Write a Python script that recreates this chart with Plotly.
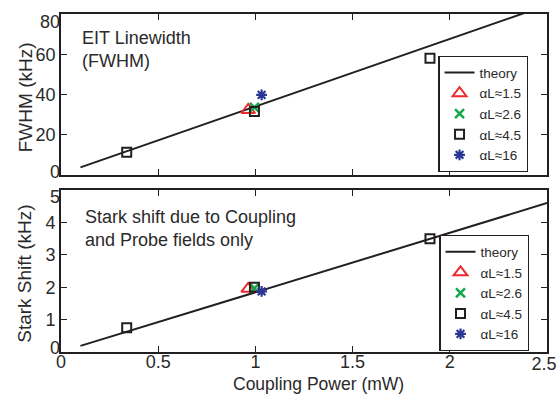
import plotly.graph_objects as go

# theory lines
theory_x = [0.1, 2.5]
fwhm_theory_y = [3.8, 84.4]
stark_theory_y = [0.19, 4.6]

# FWHM data (kHz)
fwhm_a15_x = [0.963]; fwhm_a15_y = [32.3]
fwhm_a26_x = [0.995]; fwhm_a26_y = [33.6]
fwhm_a45_x = [0.338, 0.995, 1.898]; fwhm_a45_y = [11.3, 31.5, 58.0]
fwhm_a16_x = [1.032]; fwhm_a16_y = [39.8]

# Stark shift data (kHz)
stark_a15_x = [0.963]; stark_a15_y = [1.95]
stark_a26_x = [0.995]; stark_a26_y = [1.97]
stark_a45_x = [0.338, 0.995, 1.898]; stark_a45_y = [0.75, 2.0, 3.5]
stark_a16_x = [1.032]; stark_a16_y = [1.87]

x_ticks = [0, 0.5, 1, 1.5, 2, 2.5]
x_tick_labels = ["0", "0.5", "1", "1.5", "2", "2.5"]
fwhm_ticks = [0, 20, 40, 60, 80]
fwhm_tick_labels = ["0", "20", "40", "60", "80"]
stark_ticks = [0, 1, 2, 3, 4, 5]
stark_tick_labels = ["0", "1", "2", "3", "4", "5"]

FONT = "Liberation Sans, Arial, Helvetica, sans-serif"
TXT = "#2a2a2a"
RED = "#ee2a2f"
GREEN = "#13a84a"
BLACK = "#231f20"
BLUE = "#2b3594"

fig = go.Figure()

def add_set(xa, ya, legend, tx, ty, d15, d26, d45, d16):
    fig.add_trace(go.Scatter(x=tx, y=ty, mode="lines", name="theory",
                             line=dict(color=BLACK, width=2),
                             xaxis=xa, yaxis=ya, legend=legend))
    fig.add_trace(go.Scatter(x=d15[0], y=d15[1], mode="markers", name="αL≈1.5",
                             marker=dict(symbol="triangle-up-open", size=12, color=RED,
                                         line=dict(width=2, color=RED)),
                             xaxis=xa, yaxis=ya, legend=legend))
    fig.add_trace(go.Scatter(x=d26[0], y=d26[1], mode="markers", name="αL≈2.6",
                             marker=dict(symbol="x-thin-open", size=9, color=GREEN,
                                         line=dict(width=2.5, color=GREEN)),
                             xaxis=xa, yaxis=ya, legend=legend))
    fig.add_trace(go.Scatter(x=d45[0], y=d45[1], mode="markers", name="αL≈4.5",
                             marker=dict(symbol="square-open", size=9, color=BLACK,
                                         line=dict(width=2, color=BLACK)),
                             xaxis=xa, yaxis=ya, legend=legend))
    fig.add_trace(go.Scatter(x=d16[0], y=d16[1], mode="markers", name="αL≈16",
                             marker=dict(symbol="asterisk-open", size=9, color=BLUE,
                                         line=dict(width=2.2, color=BLUE)),
                             xaxis=xa, yaxis=ya, legend=legend))

add_set("x", "y", "legend", theory_x, fwhm_theory_y,
        (fwhm_a15_x, fwhm_a15_y), (fwhm_a26_x, fwhm_a26_y),
        (fwhm_a45_x, fwhm_a45_y), (fwhm_a16_x, fwhm_a16_y))
add_set("x2", "y2", "legend2", theory_x, stark_theory_y,
        (stark_a15_x, stark_a15_y), (stark_a26_x, stark_a26_y),
        (stark_a45_x, stark_a45_y), (stark_a16_x, stark_a16_y))

# empty helper traces so that the label-only overlay axes become real subplots
for xa, ya in [("x", "y3"), ("x", "y4"), ("x3", "y2"), ("x2", "y5"), ("x2", "y6")]:
    fig.add_trace(go.Scatter(x=[None], y=[None], mode="markers", showlegend=False,
                             hoverinfo="skip", xaxis=xa, yaxis=ya))

axis_common = dict(showline=True, linecolor=BLACK, linewidth=1.6, mirror="ticks",
                   ticks="inside", ticklen=6, tickwidth=1.2, tickcolor=BLACK,
                   showgrid=False, zeroline=False, automargin=False,
                   ticklabeloverflow="allow",
                   tickfont=dict(family=FONT, size=18, color=TXT))

# overlay axes used only to place the end tick labels nudged inside the panel (as in the reference)
label_only = dict(showline=False, ticks="", showgrid=False, zeroline=False, automargin=False,
                  ticklabeloverflow="allow", tickmode="array",
                  tickfont=dict(family=FONT, size=18, color=TXT))

legend_common = dict(bgcolor="white", bordercolor=BLACK, borderwidth=1.4,
                     font=dict(family=FONT, size=13.5, color=TXT),
                     xanchor="left", yanchor="top", tracegroupgap=0,
                     itemwidth=30)

def mid_labels(labels):
    return [""] + labels[1:-1] + [""]

TOP_DOM = [0.5237, 1]
BOT_DOM = [0, 0.479]

fig.update_layout(
    width=558, height=394,
    margin=dict(l=61, r=11, t=14, b=42),
    paper_bgcolor="white", plot_bgcolor="white",
    font=dict(family=FONT, color=TXT),
    showlegend=True,
    xaxis=dict(axis_common, domain=[0, 1], range=[0, 2.5], tickvals=x_ticks,
               showticklabels=False, anchor="y"),
    yaxis=dict(axis_common, domain=TOP_DOM, range=[0, 80], tickvals=fwhm_ticks,
               ticktext=mid_labels(fwhm_tick_labels), anchor="x"),
    yaxis3=dict(label_only, overlaying="y", range=[0, 80], anchor="x", side="left",
                tickvals=fwhm_ticks[:1], ticktext=fwhm_tick_labels[:1], ticklabelshift=-3),
    yaxis4=dict(label_only, overlaying="y", range=[0, 80], anchor="x", side="left",
                tickvals=fwhm_ticks[-1:], ticktext=fwhm_tick_labels[-1:], ticklabelshift=8),
    xaxis2=dict(axis_common, domain=[0, 1], range=[0, 2.5], tickvals=x_ticks,
                ticktext=x_tick_labels[:-1] + [""], ticklabelstandoff=-7, anchor="y2"),
    xaxis3=dict(label_only, overlaying="x2", range=[0, 2.5], anchor="y2", side="bottom",
                tickvals=x_ticks[-1:], ticktext=x_tick_labels[-1:], ticklabelshift=-3,
                ticklabelstandoff=-1),
    yaxis2=dict(axis_common, domain=BOT_DOM, range=[0, 5], tickvals=stark_ticks,
                ticktext=mid_labels(stark_tick_labels), anchor="x2"),
    yaxis5=dict(label_only, overlaying="y2", range=[0, 5], anchor="x2", side="left",
                tickvals=stark_ticks[:1], ticktext=stark_tick_labels[:1], ticklabelshift=-4),
    yaxis6=dict(label_only, overlaying="y2", range=[0, 5], anchor="x2", side="left",
                tickvals=stark_ticks[-1:], ticktext=stark_tick_labels[-1:], ticklabelshift=7),
    legend=dict(legend_common, x=0.776, y=0.876),
    legend2=dict(legend_common, x=0.778, y=0.346),
    annotations=[
        dict(text="EIT Linewidth<br>(FWHM)", xref="paper", yref="paper",
             x=0.039, y=0.965, xanchor="left", yanchor="top", showarrow=False, align="left",
             font=dict(family=FONT, size=18, color=TXT)),
        dict(text="Stark shift due to Coupling<br>and Probe fields only", xref="paper", yref="paper",
             x=0.045, y=0.435, xanchor="left", yanchor="top", showarrow=False, align="left",
             font=dict(family=FONT, size=18, color=TXT)),
        dict(text="FWHM (kHz)", xref="paper", yref="paper", x=-0.074,
             y=(TOP_DOM[0] + TOP_DOM[1]) / 2 - 0.008, xanchor="center", yanchor="middle",
             textangle=-90, showarrow=False, font=dict(family=FONT, size=19, color=TXT)),
        dict(text="Stark Shift (kHz)", xref="paper", yref="paper", x=-0.074,
             y=(BOT_DOM[0] + BOT_DOM[1]) / 2 - 0.008, xanchor="center", yanchor="middle",
             textangle=-90, showarrow=False, font=dict(family=FONT, size=19, color=TXT)),
        dict(text="Coupling Power (mW)", xref="paper", yref="paper", x=0.529, y=-0.0932,
             xanchor="center", yanchor="middle", showarrow=False,
             font=dict(family=FONT, size=17.5, color=TXT)),
    ],
)

fig.write_html("out.html")
